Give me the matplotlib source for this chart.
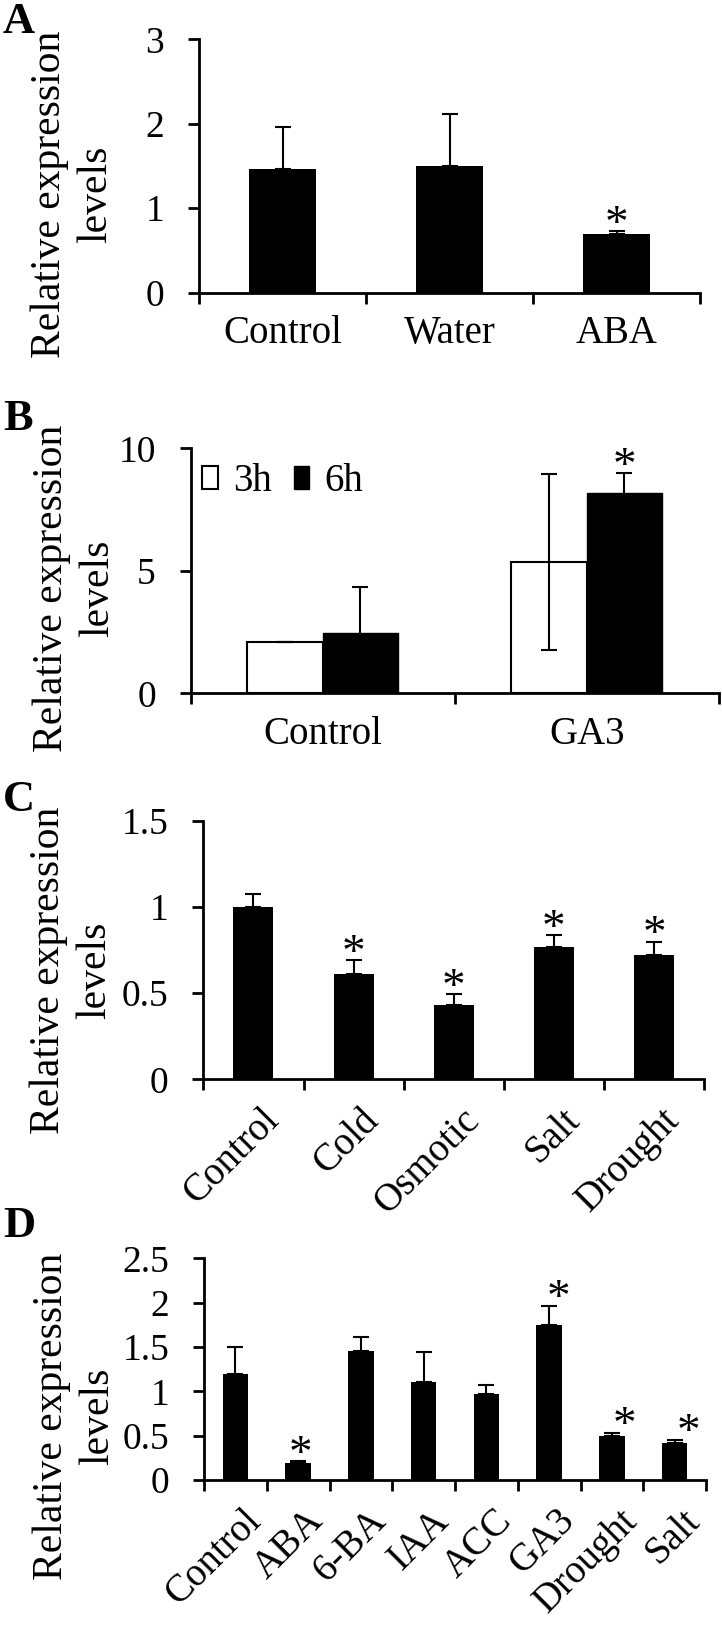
import numpy as np
import matplotlib
matplotlib.use('Agg')
import matplotlib.pyplot as plt
from matplotlib.transforms import ScaledTranslation

plt.rcParams['font.family'] = ['Liberation Serif', 'DejaVu Serif']

# Panel A
a_labels = ['Control', 'Water', 'ABA']
a_vals = [1.47, 1.50, 0.69]
a_err = [0.49, 0.62, 0.04]
a_sig = [False, False, True]

# Panel B
b_labels = ['Control', 'GA3']
b_3h = [2.08, 5.35]
b_3h_err = [0.0, 3.6]
b_6h = [2.47, 8.16]
b_6h_err = [1.86, 0.82]
b_sig_6h = [False, True]

# Panel C
c_labels = ['Control', 'Cold', 'Osmotic', 'Salt', 'Drought']
c_vals = [1.00, 0.61, 0.43, 0.77, 0.72]
c_err = [0.075, 0.08, 0.062, 0.067, 0.078]
c_sig = [False, True, True, True, True]

# Panel D
d_labels = ['Control', 'ABA', '6-BA', 'IAA', 'ACC', 'GA3', 'Drought', 'Salt']
d_vals = [1.20, 0.19, 1.46, 1.11, 0.97, 1.75, 0.50, 0.42]
d_err = [0.30, 0.02, 0.15, 0.33, 0.105, 0.215, 0.033, 0.034]
d_sig = [False, True, False, False, False, True, True, True]

W, H = 722, 1626
fig = plt.figure(figsize=(W / 100, H / 100), dpi=100)
FS = 27      # y tick labels
XFS = 28     # category labels


def px_axes(l, t, r, b):
    return fig.add_axes([l / W, 1 - b / H, (r - l) / W, (b - t) / H])


def style(ax, labels, ymax, step, rotate=False):
    n = len(labels)
    for s in ['top', 'right']:
        ax.spines[s].set_visible(False)
    for s in ['left', 'bottom']:
        ax.spines[s].set_linewidth(2)
    ax.set_xlim(-0.5, n - 0.5)
    ax.set_ylim(0, ymax)
    yt = np.arange(0, ymax + step / 2, step)
    ax.set_yticks(yt)
    ax.set_yticklabels(['%g' % v for v in yt])
    ax.set_xticks(np.arange(-0.5, n, 1))
    ax.set_xticklabels([])
    ax.set_xticks(np.arange(n), minor=True)
    ax.tick_params(axis='both', which='major', direction='out', length=8, width=2, labelsize=FS)
    ax.tick_params(axis='y', pad=17)
    ax.tick_params(axis='x', which='minor', length=0, labelsize=XFS, pad=16)
    if rotate:
        ax.set_xticklabels(labels, minor=True, rotation=45, ha='right', va='top',
                           rotation_mode='anchor')
        off = ScaledTranslation(5 / 72, 0, fig.dpi_scale_trans)
        for lab in ax.get_xticklabels(minor=True):
            lab.set_transform(lab.get_transform() + off)
    else:
        ax.set_xticklabels(labels, minor=True)


def stars(ax, xs, tops, sig, dxs=None):
    # asterisks above the error caps
    for i, (x, t, s) in enumerate(zip(xs, tops, sig)):
        if s:
            dx = dxs[i] if dxs else 0
            ax.annotate('*', xy=(x, t), xytext=(dx, 4), textcoords='offset points',
                        ha='center', va='center', fontsize=34)


def ylab(x, y):
    fig.text(x / W, 1 - y / H, 'Relative expression\nlevels', rotation=90,
             ha='center', va='center', multialignment='center', fontsize=30, linespacing=1.25)


ekw = dict(fmt='none', ecolor='black', elinewidth=1.5, capsize=5.5, capthick=1.5, zorder=3)

# A
ax = px_axes(199, 39.3, 700, 292.7)
x = np.arange(len(a_labels))
ax.bar(x, a_vals, 0.4, color='black')
ax.errorbar(x, a_vals, yerr=[np.zeros(len(x)), a_err], **ekw)
stars(ax, x, np.add(a_vals, a_err), a_sig)
style(ax, a_labels, 3, 1)

# B
ax = px_axes(190.7, 448.3, 718.7, 693.3)
x = np.arange(len(b_labels))
w = 0.286
ax.bar(x - w / 2, b_3h, w, color='white', edgecolor='black', linewidth=1.5, label='3h')
ax.bar(x + w / 2, b_6h, w, color='black', edgecolor='black', label='6h')
ax.errorbar(x - w / 2, b_3h, yerr=b_3h_err, **ekw)
ax.errorbar(x + w / 2, b_6h, yerr=b_6h_err, **ekw)
stars(ax, x + w / 2, np.add(b_6h, b_6h_err), b_sig_6h)
style(ax, b_labels, 10, 5)
ax.legend(loc='center left', bbox_to_anchor=(0.022, 0.864), ncol=2, frameon=False,
          fontsize=XFS, handlelength=0.4, handleheight=0.55, handletextpad=0.4,
          columnspacing=0.55, borderpad=0, borderaxespad=0)

# C
ax = px_axes(203.3, 820.7, 704.3, 1079.3)
x = np.arange(len(c_labels))
ax.bar(x, c_vals, 0.4, color='black')
ax.errorbar(x, c_vals, yerr=[np.zeros(len(x)), c_err], **ekw)
stars(ax, x, np.add(c_vals, c_err), c_sig)
style(ax, c_labels, 1.5, 0.5, rotate=True)

# D
ax = px_axes(204, 1258.3, 706, 1480)
x = np.arange(len(d_labels))
ax.bar(x, d_vals, 0.405, color='black')
ax.errorbar(x, d_vals, yerr=[np.zeros(len(x)), d_err], **ekw)
stars(ax, x, np.add(d_vals, d_err), d_sig, dxs=[0, 2, 0, 0, 0, 7, 9, 10])
style(ax, d_labels, 2.5, 0.5, rotate=True)

# panel letters and axis titles
for letter, yb in [('A', 33), ('B', 430), ('C', 811), ('D', 1237)]:
    fig.text(3 / W, 1 - yb / H, letter, fontsize=32, fontweight='bold', va='baseline')
ylab(73, 194)
ylab(74.5, 588)
ylab(71.5, 970)
ylab(74.5, 1416)

fig.savefig('out.png', dpi=100)
